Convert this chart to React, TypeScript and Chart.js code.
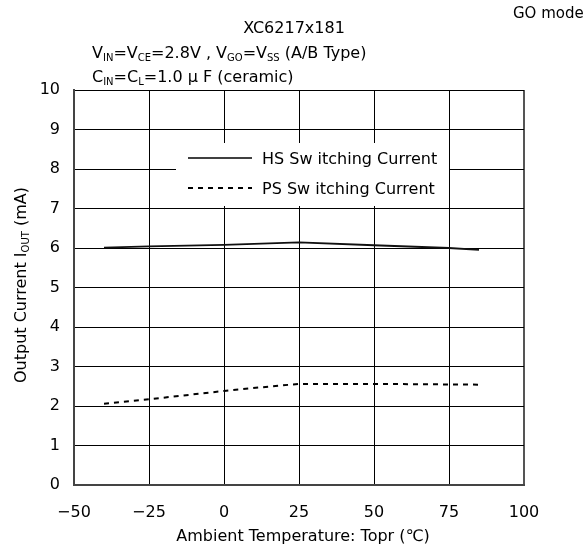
import React, { useEffect, useRef } from "react";
import { Chart, registerables } from "chart.js";

Chart.register(...registerables);

const hsTemps = [-40, -25, 0, 25, 50, 75, 85];
const hsValues = [6.01, 6.04, 6.08, 6.14, 6.07, 6.0, 5.95];
const psTemps = [-40, -25, 0, 12, 25, 50, 85];
const psValues = [2.06, 2.17, 2.38, 2.47, 2.56, 2.56, 2.54];
const xTicks = [-50, -25, 0, 25, 50, 75, 100];
const yTicks = [0, 1, 2, 3, 4, 5, 6, 7, 8, 9, 10];
const seriesNames = ["HS Sw itching Current", "PS Sw itching Current"];

const FONT = "DejaVu Sans";

type Seg = { t: string; sub?: boolean };

function richWidth(ctx: CanvasRenderingContext2D, segs: Seg[], size: number, subSize: number) {
  let w = 0;
  for (const s of segs) {
    ctx.font = `${s.sub ? subSize : size}px "${FONT}"`;
    w += ctx.measureText(s.t).width;
  }
  return w;
}

function drawRich(ctx: CanvasRenderingContext2D, segs: Seg[], x: number, y: number, size: number, subSize: number) {
  let cx = x;
  ctx.textBaseline = "alphabetic";
  ctx.textAlign = "left";
  for (const s of segs) {
    ctx.font = `${s.sub ? subSize : size}px "${FONT}"`;
    ctx.fillText(s.t, cx, s.sub ? y + 3 : y);
    cx += ctx.measureText(s.t).width;
  }
}

const textPlugin = {
  id: "texts",
  afterDraw(chart: any) {
    const ctx: CanvasRenderingContext2D = chart.ctx;
    ctx.save();
    ctx.fillStyle = "#000";
    // title
    ctx.font = `16px "${FONT}"`;
    ctx.textAlign = "center";
    ctx.textBaseline = "alphabetic";
    ctx.fillText("XC6217x181", 294, 33);
    ctx.textAlign = "left";
    ctx.font = `15px "${FONT}"`;
    ctx.fillText("GO mode", 513, 18);
    // subtitle lines
    drawRich(
      ctx,
      [
        { t: "V" }, { t: "IN", sub: true }, { t: "=V" }, { t: "CE", sub: true },
        { t: "=2.8V , V" }, { t: "GO", sub: true }, { t: "=V" }, { t: "SS", sub: true },
        { t: " (A/B Type)", sub: false },
      ],
      92, 58, 16, 10
    );
    drawRich(
      ctx,
      [
        { t: "C" }, { t: "IN", sub: true }, { t: "=C" }, { t: "L", sub: true },
        { t: "=1.0 μ F (ceramic)" },
      ],
      92, 82, 16, 10
    );
    // x title
    ctx.font = `16px "${FONT}"`;
    ctx.textAlign = "center";
    ctx.fillText("Ambient Temperature: Topr (℃)", 303, 541);
    // y title rotated
    const ySegs: Seg[] = [{ t: "Output Current I" }, { t: "OUT", sub: true }, { t: " (mA)" }];
    const w = richWidth(ctx, ySegs, 16, 10);
    ctx.save();
    ctx.translate(26, 285);
    ctx.rotate(-Math.PI / 2);
    drawRich(ctx, ySegs, -w / 2, 0, 16, 10);
    ctx.restore();

    // legend
    ctx.fillStyle = "#fff";
    ctx.fillRect(176, 143, 273, 63);
    ctx.strokeStyle = "#000";
    ctx.lineWidth = 1.5;
    ctx.setLineDash([]);
    ctx.beginPath();
    ctx.moveTo(188, 158);
    ctx.lineTo(252, 158);
    ctx.stroke();
    ctx.lineWidth = 2;
    ctx.setLineDash([5, 5]);
    ctx.beginPath();
    ctx.moveTo(188, 188);
    ctx.lineTo(252, 188);
    ctx.stroke();
    ctx.setLineDash([]);
    ctx.fillStyle = "#000";
    ctx.font = `16px "${FONT}"`;
    ctx.textAlign = "left";
    ctx.textBaseline = "middle";
    ctx.fillText(seriesNames[0], 262, 160);
    ctx.fillText(seriesNames[1], 262, 190);
    ctx.restore();
  },
};

export default function App() {
  const ref = useRef<HTMLCanvasElement>(null);
  useEffect(() => {
    if (!ref.current) return;
    const chart = new Chart(ref.current, {
      type: "line",
      data: {
        datasets: [
          {
            label: seriesNames[0],
            data: hsTemps.map((t, i) => ({ x: t, y: hsValues[i] })),
            borderColor: "#111",
            borderWidth: 1.8,
            pointRadius: 0,
            tension: 0,
          },
          {
            label: seriesNames[1],
            data: psTemps.map((t, i) => ({ x: t, y: psValues[i] })),
            borderColor: "#000",
            borderWidth: 2,
            borderDash: [5, 5],
            pointRadius: 0,
            tension: 0,
          },
        ],
      },
      options: {
        responsive: false,
        animation: false,
        layout: { padding: { top: 90, left: 0, right: 60, bottom: 0 } },
        plugins: { legend: { display: false }, tooltip: { enabled: false }, title: { display: false } },
        scales: {
          x: {
            type: "linear",
            min: -50,
            max: 100,
            afterBuildTicks: (s: any) => {
              s.ticks = xTicks.map((v) => ({ value: v }));
            },
            afterFit: (s: any) => {
              s.height = 69;
            },
            grid: {
              color: (c: any) => (c.tick && c.tick.value === 100 ? "#555" : "#000"),
              lineWidth: (c: any) => (c.tick && c.tick.value === 100 ? 2 : 1),
              drawTicks: false,
            },
            border: { color: "#444", width: 2 },
            ticks: {
              color: "#000",
              font: { family: FONT, size: 16 },
              padding: 18,
              maxRotation: 0,
              callback: (v: any) => String(v).replace("-", "−"),
            },
          },
          y: {
            min: 0,
            max: 10,
            afterBuildTicks: (s: any) => {
              s.ticks = yTicks.map((v) => ({ value: v }));
            },
            afterFit: (s: any) => {
              s.width = 74;
            },
            grid: { color: "#000", lineWidth: 1, drawTicks: false },
            border: { color: "#444", width: 2 },
            ticks: {
              color: "#000",
              font: { family: FONT, size: 16 },
              padding: 14,
            },
          },
        },
      },
      plugins: [textPlugin],
    } as any);
    return () => chart.destroy();
  }, []);
  return (
    <div style={{ position: "absolute", left: 0, top: 0, width: 584, height: 554, background: "#fff" }}>
      <canvas ref={ref} width={584} height={554} style={{ display: "block" }} />
    </div>
  );
}
